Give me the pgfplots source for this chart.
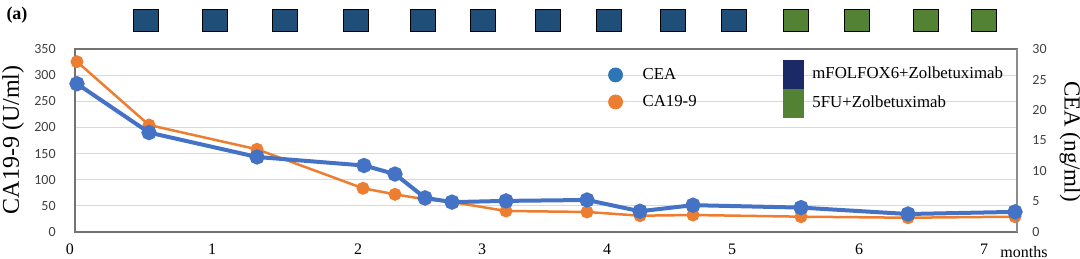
\documentclass[border=0pt]{standalone}
\usepackage{fontspec}
\setmainfont{Liberation Serif}
\newfontfamily\carlito{Carlito}
\usepackage{pgfplots}
\pgfplotsset{compat=1.18}
\definecolor{ceaLine}{HTML}{4472C4}
\definecolor{caLine}{HTML}{ED7D31}
\definecolor{ceaLeg}{HTML}{2E75B6}
\definecolor{navyTop}{HTML}{1F4E79}
\definecolor{navyLeg}{HTML}{1B2A66}
\definecolor{greenT}{HTML}{548235}
\definecolor{gridc}{HTML}{D9D9D9}
\begin{document}
\begin{tikzpicture}
\pgfplotsset{
  base/.style={width=471pt,height=91.5pt,scale only axis,
    xmin=75,xmax=1017, at={(0,0)}, anchor=south west,
    /pgf/number format/assume math mode=true,
    tick style={draw=none}, clip=false},
}
\begin{axis}[base,
  ymin=0,ymax=350, ytick={0,50,...,350},
  ymajorgrids, grid style={gridc, line width=0.6pt},
  axis line style={black!55, line width=0.7pt},
  xtick={75,212,358,482,607,732,859,984},
  xticklabels={\makebox[0pt]{0\hspace{5pt}},1,2,3,4,5,6,7},
  xticklabel style={font=\fontsize{8}{9}\selectfont, anchor=base, inner sep=0pt, yshift=-11pt},
  yticklabel style={font=\carlito\fontsize{7}{8}\selectfont, text=black!75, anchor=east, inner sep=0pt, xshift=-9.5pt},
  ylabel={CA19-9 (U/ml)},
  every axis y label/.style={at={(axis description cs:-0.0658,0.503)}, anchor=center, rotate=90, font=\fontsize{12}{14}\selectfont},
  legend style={at={(axis description cs:0.566,0.932)}, anchor=north west, draw=none, fill=none,
    inner sep=0pt, outer sep=0pt, row sep=0pt, font=\fontsize{8.4}{10}\selectfont, nodes={inner sep=0pt}},
  legend cell align=left,
]
\addlegendimage{legend image code/.code={\fill[ceaLeg] (0pt,0pt) circle (3.5pt); \path[draw=none,fill=none] (-3.6pt,-6.75pt) rectangle (13.5pt,6.75pt);}}
\addlegendentry{CEA}
\addlegendimage{legend image code/.code={\fill[caLine] (0pt,0pt) circle (3.5pt); \path[draw=none,fill=none] (-3.6pt,-6.75pt) rectangle (13.5pt,6.75pt);}}
\addlegendentry{CA19-9}
\addplot[caLine, line width=1.25pt, mark=*, mark size=2.6pt, mark options={solid, fill=caLine, draw=caLine}, forget plot]
 coordinates {(77,325.7) (149,204.6) (257,158.2) (363,83.6) (395,72.1) (425,62.5) (452,57.4) (506,40.2) (587,38.3) (640,31.2) (693,32.5) (801,29.3) (908,27.3) (1015,29.3)};
\addplot[only marks, mark=square*, mark size=5.5pt, mark options={xscale=1.136, fill=navyTop, draw=none}, forget plot]
 coordinates {(145.5,405.5) (214.5,405.5) (284.5,405.5) (355.5,405.5) (422.5,405.5) (482.5,405.5) (547.5,405.5) (608.5,405.5) (672.5,405.5) (733.5,405.5)};
\addplot[only marks, mark=square*, mark size=5.5pt, mark options={xscale=1.136, fill=greenT, draw=none}, forget plot]
 coordinates {(795.5,405.5) (856.5,405.5) (925.5,405.5) (983.5,405.5)};
\end{axis}
\begin{axis}[base,
  ymin=0,ymax=30, ytick={0,5,...,30},
  axis x line=none, axis y line*=right,
  axis line style={black!45, line width=0.7pt},
  yticklabel style={font=\carlito\fontsize{7}{8}\selectfont, text=black!75, anchor=west, inner sep=0pt, xshift=7.5pt},
  ylabel={CEA (ng/ml)},
  every axis y label/.style={at={(axis description cs:1.0563,0.4945)}, anchor=center, rotate=-90, font=\fontsize{11.5}{14}\selectfont},
  legend style={at={(axis description cs:0.7516,0.940)}, anchor=north west, draw=none, fill=none,
    inner sep=0pt, outer sep=0pt, row sep=0pt, font=\fontsize{8.4}{10}\selectfont, nodes={inner sep=0pt}},
  legend cell align=left,
]
\addlegendimage{legend image code/.code={\fill[navyLeg] (0pt,-7pt) rectangle (10pt,7pt); \path[draw=none,fill=none] (0pt,0pt) -- (14.5pt,0pt);}}
\addlegendentry{mFOLFOX6+Zolbetuximab}
\addlegendimage{legend image code/.code={\fill[greenT] (0pt,-7.3pt) rectangle (10pt,7pt); \path[draw=none,fill=none] (0pt,0pt) -- (14.5pt,0pt);}}
\addlegendentry{5FU+Zolbetuximab}
\addplot[ceaLine, line width=2pt, mark=*, mark size=2.8pt, mark options={solid, fill=ceaLine, draw=ceaLine}, forget plot]
 coordinates {(77,24.3) (149,16.3) (257,12.3) (364,10.9) (395,9.5) (425,5.6) (452,4.9) (506,5.1) (587,5.25) (640,3.4) (693,4.4) (801,4.0) (908,2.95) (1015,3.3)};
\end{axis}
\node[font=\bfseries\fontsize{9}{10}\selectfont, inner sep=0pt] at (-29pt,108.25pt) {(a)};
\node[anchor=north west, inner sep=0pt, font=\fontsize{8}{9}\selectfont] at (462.5pt,-7pt) {months};
\pgfresetboundingbox
\useasboundingbox (-37.5pt,-13pt) rectangle (502.5pt,116pt);
\end{tikzpicture}
\end{document}
